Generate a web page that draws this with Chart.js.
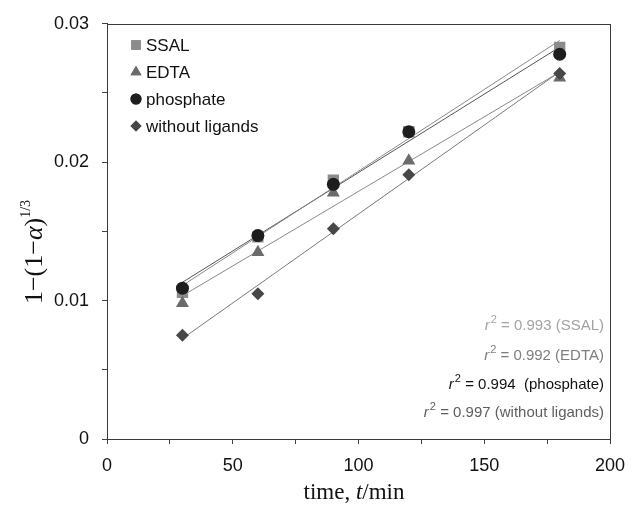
<!DOCTYPE html>
<html><head><meta charset="utf-8">
<script src="https://cdn.jsdelivr.net/npm/chart.js@4.4.1/dist/chart.umd.min.js"></script>
<style>html,body{margin:0;padding:0;background:#fff}#wrap{width:638px;height:514px;position:relative}</style>
</head><body><div id="wrap"><canvas id="c" width="638" height="514"></canvas></div>
<script>
const times = [30, 60, 90, 120, 180];
const ssal = [0.0106, 0.0146, 0.0187, 0.0222, 0.0283];
const edta = [0.0098, 0.0135, 0.0178, 0.0201, 0.0261];
const phosphate = [0.0109, 0.0147, 0.0184, 0.0222, 0.0278];
const noLigands = [0.0075, 0.0105, 0.0152, 0.0191, 0.0264];
const seriesNames = ['SSAL', 'EDTA', 'phosphate', 'without ligands'];
const r2Values = ['0.993', '0.992', '0.994', '0.997'];
const r2Suffix = [' (SSAL)', ' (EDTA)', '  (phosphate)', ' (without ligands)'];
const xTickLabels = [0, 50, 100, 150, 200];
const yTickLabels = [0, 0.01, 0.02, 0.03];

const seriesValues = [ssal, edta, phosphate, noLigands];
const markerColors = ['#8c8c8c', '#6b6b6b', '#1e1e1e', '#474747'];
const markerStyles = ['rect', 'triangle', 'circle', 'rectRot'];
const markerRadius = [8, 7.5, 6.5, 6.5];
const drawOrder = [3, 2, 0, 1];
const lineColors = ['#8a8a8a', '#8a8a8a', '#555555', '#7a7a7a'];
const r2Colors = ['#a3a3a3', '#7d7d7d', '#111111', '#5e5e5e'];

function fitLine(xs, ys) {
  const n = xs.length;
  const mx = xs.reduce((a, b) => a + b, 0) / n;
  const my = ys.reduce((a, b) => a + b, 0) / n;
  let sxy = 0, sxx = 0;
  for (let i = 0; i < n; i++) { sxy += (xs[i] - mx) * (ys[i] - my); sxx += (xs[i] - mx) ** 2; }
  const b = sxy / sxx, a = my - b * mx;
  const x0 = Math.min(...xs), x1 = Math.max(...xs);
  return [{x: x0, y: a + b * x0}, {x: x1, y: a + b * x1}];
}

const datasets = [];
seriesValues.forEach((vals, i) => {
  datasets.push({
    type: 'scatter', label: seriesNames[i],
    data: times.map((t, k) => ({x: t, y: vals[k]})),
    pointStyle: markerStyles[i], pointRadius: markerRadius[i], pointHoverRadius: markerRadius[i],
    backgroundColor: markerColors[i], borderColor: markerColors[i], borderWidth: 0,
    order: drawOrder[i]
  });
});
seriesValues.forEach((vals, i) => {
  datasets.push({
    type: 'line', label: seriesNames[i] + ' fit',
    data: fitLine(times, vals),
    borderColor: lineColors[i], borderWidth: 1, pointRadius: 0, fill: false,
    order: 10 + i
  });
});

const overlay = {
  id: 'overlay',
  afterDraw(chart) {
    const ctx = chart.ctx, ca = chart.chartArea;
    ctx.save();
    ctx.strokeStyle = '#3a3a3a'; ctx.lineWidth = 1;
    ctx.strokeRect(Math.round(ca.left) + 0.5, Math.round(ca.top) + 0.5, Math.round(ca.right - ca.left), Math.round(ca.bottom - ca.top));

    // legend
    const ly = [45, 72, 99, 126];
    ctx.font = '17px "Liberation Sans", Arial, sans-serif';
    ctx.textBaseline = 'middle'; ctx.textAlign = 'left';
    seriesNames.forEach((name, i) => {
      ctx.fillStyle = markerColors[i];
      Chart.helpers.drawPoint(ctx, {pointStyle: markerStyles[i], radius: markerRadius[i] * 0.85, borderWidth: 0}, 136, ly[i]);
      ctx.fill();
      ctx.fillStyle = '#111';
      ctx.fillText(name, 146, ly[i] + 1);
    });

    // r^2 annotations
    const ry = [325, 355, 384, 412];
    const rightX = 604;
    seriesNames.forEach((n, i) => {
      const f1 = 'italic 15px "Liberation Sans", Arial, sans-serif';
      const f2 = '11px "Liberation Sans", Arial, sans-serif';
      const f3 = '15px "Liberation Sans", Arial, sans-serif';
      const rest = ' = ' + r2Values[i] + r2Suffix[i];
      ctx.font = f1; const w1 = ctx.measureText('r').width + 1;
      ctx.font = f2; const w2 = ctx.measureText('2').width;
      ctx.font = f3; const w3 = ctx.measureText(rest).width;
      let x = rightX - (w1 + w2 + w3);
      ctx.fillStyle = r2Colors[i]; ctx.textBaseline = 'alphabetic'; ctx.textAlign = 'left';
      ctx.font = f1; ctx.fillText('r', x, ry[i] + 5); x += w1;
      ctx.font = f2; ctx.fillText('2', x, ry[i] - 2); x += w2;
      ctx.font = f3; ctx.fillText(rest, x, ry[i] + 5);
    });

    // x title
    const serif = '"Liberation Serif", "Times New Roman", serif';
    const xParts = [['time, ', '23px ' + serif], ['t', 'italic 23px ' + serif], ['/min', '23px ' + serif]];
    let tw = 0;
    xParts.forEach(p => { ctx.font = p[1]; tw += ctx.measureText(p[0]).width; });
    let xx = 354 - tw / 2;
    ctx.fillStyle = '#111'; ctx.textBaseline = 'alphabetic';
    xParts.forEach(p => { ctx.font = p[1]; ctx.fillText(p[0], xx, 499); xx += ctx.measureText(p[0]).width; });

    // y title
    ctx.save();
    ctx.translate(34, 252);
    ctx.rotate(-Math.PI / 2);
    const yParts = [['1\u2212(1\u2212', '26px ' + serif, 0], ['\u03B1', 'italic 26px ' + serif, 0], [')', '26px ' + serif, 0], ['1/3', '14px ' + serif, -12]];
    let th = 0;
    yParts.forEach(p => { ctx.font = p[1]; th += ctx.measureText(p[0]).width; });
    let yx = -th / 2;
    yParts.forEach(p => { ctx.font = p[1]; ctx.fillText(p[0], yx, 8 + p[2]); yx += ctx.measureText(p[0]).width; });
    ctx.restore();
    ctx.restore();
  }
};

new Chart(document.getElementById('c'), {
  data: {datasets},
  options: {
    responsive: false, animation: false,
    layout: {padding: {top: 23, right: 28, left: 0, bottom: 0}},
    plugins: {legend: {display: false}, tooltip: {enabled: false}},
    scales: {
      x: {
        type: 'linear', min: 0, max: 200,
        afterFit(s) { s.height = 75; },
        afterBuildTicks(s) { s.ticks = []; for (let v = 0; v <= 200; v += 25) s.ticks.push({value: v}); },
        ticks: {
          autoSkip: false, maxRotation: 0, padding: 11, color: '#111',
          font: {size: 18, family: '"Liberation Sans", Arial, sans-serif'},
          callback: v => xTickLabels.includes(v) ? String(v) : ''
        },
        grid: {drawOnChartArea: false, drawTicks: true, tickLength: 5, color: '#444'},
        border: {display: true, color: '#3a3a3a', width: 1}
      },
      y: {
        type: 'linear', min: 0, max: 0.03,
        afterFit(s) { s.width = 107; },
        afterBuildTicks(s) { s.ticks = []; for (let k = 0; k <= 6; k++) s.ticks.push({value: k * 0.005}); },
        ticks: {
          autoSkip: false, padding: 13, color: '#111',
          font: {size: 18, family: '"Liberation Sans", Arial, sans-serif'},
          callback: v => { const m = yTickLabels.find(t => Math.abs(t - v) < 1e-9); return m === undefined ? '' : String(m); }
        },
        grid: {drawOnChartArea: false, drawTicks: true, tickLength: 5, color: '#444'},
        border: {display: true, color: '#3a3a3a', width: 1}
      }
    }
  },
  plugins: [overlay]
});
</script></body></html>
